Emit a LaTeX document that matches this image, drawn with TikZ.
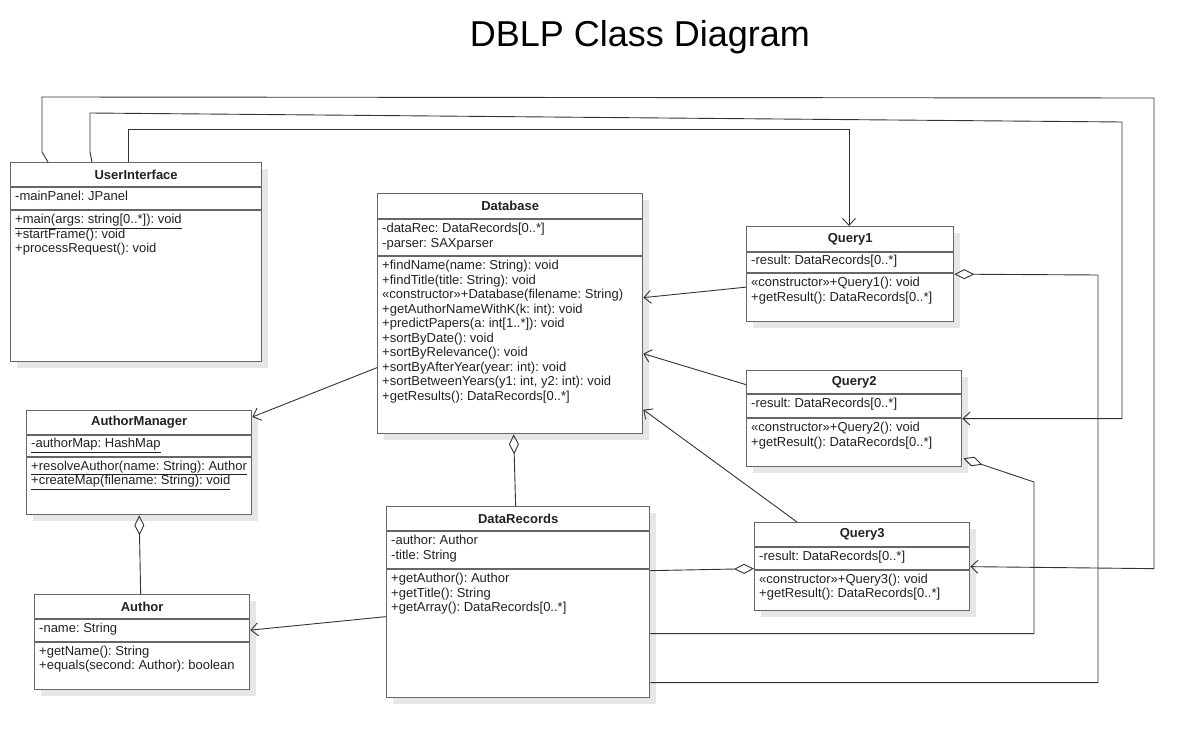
\documentclass[tikz,border=0pt]{standalone}
\usepackage{fontspec}
\setmainfont{Liberation Sans}
\frenchspacing
\usetikzlibrary{arrows.meta,calc,shadows}
\definecolor{ink}{HTML}{222222}
\definecolor{frame}{HTML}{666666}
\definecolor{shade}{HTML}{E6E6E6}
\definecolor{wire}{HTML}{333333}

\begin{document}
\begin{tikzpicture}[x=1pt,y=-1pt,
  font=\fontsize{13}{14.5}\selectfont,text=ink,
  cls/.style={draw=frame,line width=1.3pt,fill=white,anchor=north west,inner sep=0pt,
    drop shadow={shadow xshift=6pt,shadow yshift=-6pt,fill=shade,opacity=1}},
  sep/.style={draw=frame,line width=1.3pt},
  hd/.style={font=\fontsize{13}{14.5}\selectfont\bfseries},
  txt/.style={anchor=north west,inner sep=0pt,align=left},
  link/.style={draw=wire,line width=0.9pt},
  nav/.style={link,-{Straight Barb[length=7pt,width=13pt,line width=0.9pt]}},
  agg/.style={link,-{Diamond[open,length=20pt,width=10pt,line width=0.9pt]}}]
  \useasboundingbox (0,0) rectangle (1195,738);

  \node[font=\fontsize{36}{42}\selectfont,anchor=base,text=black] (title) at (640,47) {DBLP Class Diagram};

  % UserInterface
  \node[cls,minimum width=251,minimum height=199] (ui) at (10,162) {};
  \draw[sep] ($(ui.north west)+(0,25)$) -- +(251,0);
  \draw[sep] ($(ui.north west)+(0,48)$) -- +(251,0);
  \node[hd] at ($(ui.north)+(0,12.5)$) {UserInterface};
  \node[txt] at ($(ui.north west)+(5,29)$) {-mainPanel: JPanel};
  \node[txt] at ($(ui.north west)+(5,52)$) {\underline{+main(args: string[0..*]): void}\\+startFrame(): void\\+processRequest(): void};

  % Database
  \node[cls,minimum width=265,minimum height=240] (db) at (377,193) {};
  \draw[sep] ($(db.north west)+(0,26)$) -- +(265,0);
  \draw[sep] ($(db.north west)+(0,63)$) -- +(265,0);
  \node[hd] at ($(db.north)+(0,13)$) {Database};
  \node[txt] at ($(db.north west)+(5,30)$) {-dataRec: DataRecords[0..*]\\-parser: SAXparser};
  \node[txt] at ($(db.north west)+(5,67)$) {+findName(name: String): void\\+findTitle(title: String): void\\«constructor»+Database(filename: String)\\+getAuthorNameWithK(k: int): void\\+predictPapers(a: int[1..*]): void\\+sortByDate(): void\\+sortByRelevance(): void\\+sortByAfterYear(year: int): void\\+sortBetweenYears(y1: int, y2: int): void\\+getResults(): DataRecords[0..*]};

  % Query1
  \node[cls,minimum width=207,minimum height=95] (q1) at (746,226) {};
  \draw[sep] ($(q1.north west)+(0,26)$) -- +(207,0);
  \draw[sep] ($(q1.north west)+(0,47)$) -- +(207,0);
  \node[hd] at ($(q1.north)+(0,13)$) {Query1};
  \node[txt] at ($(q1.north west)+(5,29)$) {-result: DataRecords[0..*]};
  \node[txt] at ($(q1.north west)+(5,51)$) {«constructor»+Query1(): void\\+getResult(): DataRecords[0..*]};

  % Query2
  \node[cls,minimum width=215,minimum height=96] (q2) at (746,370) {};
  \draw[sep] ($(q2.north west)+(0,24)$) -- +(215,0);
  \draw[sep] ($(q2.north west)+(0,48)$) -- +(215,0);
  \node[hd] at ($(q2.north)+(0,12)$) {Query2};
  \node[txt] at ($(q2.north west)+(5,28)$) {-result: DataRecords[0..*]};
  \node[txt] at ($(q2.north west)+(5,52)$) {«constructor»+Query2(): void\\+getResult(): DataRecords[0..*]};

  % Query3
  \node[cls,minimum width=215,minimum height=88] (q3) at (754,522) {};
  \draw[sep] ($(q3.north west)+(0,25)$) -- +(215,0);
  \draw[sep] ($(q3.north west)+(0,48)$) -- +(215,0);
  \node[hd] at ($(q3.north)+(0,12.5)$) {Query3};
  \node[txt] at ($(q3.north west)+(5,28.5)$) {-result: DataRecords[0..*]};
  \node[txt] at ($(q3.north west)+(5,51.5)$) {«constructor»+Query3(): void\\+getResult(): DataRecords[0..*]};

  % AuthorManager
  \node[cls,minimum width=225,minimum height=104] (am) at (26,410) {};
  \draw[sep] ($(am.north west)+(0,25)$) -- +(225,0);
  \draw[sep] ($(am.north west)+(0,47)$) -- +(225,0);
  \node[hd] at ($(am.north)+(0,12.5)$) {AuthorManager};
  \node[txt] at ($(am.north west)+(5,28)$) {\underline{-authorMap: HashMap}};
  \node[txt] at ($(am.north west)+(5,50.5)$) {\underline{+resolveAuthor(name: String): Author}\\\underline{+createMap(filename: String): void}};

  % Author
  \node[cls,minimum width=215,minimum height=95] (au) at (34,594) {};
  \draw[sep] ($(au.north west)+(0,25)$) -- +(215,0);
  \draw[sep] ($(au.north west)+(0,48)$) -- +(215,0);
  \node[hd] at ($(au.north)+(0,12.5)$) {Author};
  \node[txt] at ($(au.north west)+(5,28.5)$) {-name: String};
  \node[txt] at ($(au.north west)+(5,51.5)$) {+getName(): String\\+equals(second: Author): boolean};

  % DataRecords
  \node[cls,minimum width=263,minimum height=191] (dr) at (386,506) {};
  \draw[sep] ($(dr.north west)+(0,25)$) -- +(263,0);
  \draw[sep] ($(dr.north west)+(0,63)$) -- +(263,0);
  \node[hd] at ($(dr.north)+(0,12.5)$) {DataRecords};
  \node[txt] at ($(dr.north west)+(5,29)$) {-author: Author\\-title: String};
  \node[txt] at ($(dr.north west)+(5,67)$) {+getAuthor(): Author\\+getTitle(): String\\+getArray(): DataRecords[0..*]};

  % bends of the long routes
  \coordinate (c1) at (849,129);
  \coordinate (c2) at (1122,122);
  \coordinate (c3) at (1154,98);
  \coordinate (c4) at (1098,275);
  \coordinate (c5) at (1034,482);

  % navigable associations
  \draw[nav] ($(ui.north west)+(118,0)$) |- (c1) -- (q1.north -| c1);
  \draw[nav] ($(ui.north west)+(82,0)$) -- ++(-2,-10) -- ++(0,-39) -- (c2) -- (c2 |- q2.east) -- (q2.east);
  \draw[nav] ($(ui.north west)+(38,0)$) -- ++(-6,-10) -- ++(0,-55) -- (c3) -- ($(c3 |- q3.east)+(0,2)$) -- (q3.east);
  \draw[nav] ($(q1.west)+(0,13)$) -- ($(db.east)+(0,-16)$);
  \draw[nav] ($(q2.west)+(0,-34)$) -- ($(db.east)+(0,40)$);
  \draw[nav] ($(q3.north west)+(43,0)$) -- ($(db.east)+(0,96)$);
  \draw[nav] ($(db.west)+(0,54)$) -- ($(am.north east)+(0,7)$);
  \draw[nav] ($(dr.west)+(0,14.5)$) -- ($(au.east)+(0,-12)$);

  % aggregations
  \draw[agg] ($(dr.north)+(-2.5,0)$) -- ($(db.south)+(3.5,0)$);
  \draw[agg] ($(au.north)+(-1.5,0)$) -- (am.south);
  \draw[agg] ($(dr.east)+(0,80.5)$) -| (c4) -- (q1.east);
  \draw[agg] ($(dr.east)+(0,31.5)$) -| (c5) -- ($(q2.south east)+(1,-9)$);
  \draw[agg] ($(dr.east)+(0,-31.5)$) -- ($(q3.west)+(0,2)$);
\end{tikzpicture}
\end{document}
